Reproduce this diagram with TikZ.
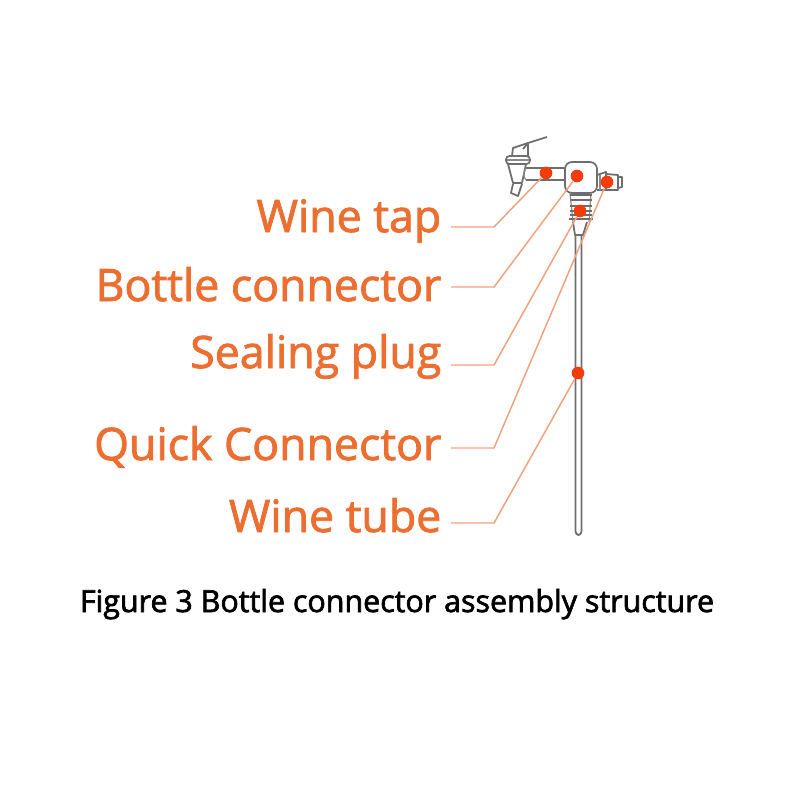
\documentclass[tikz,border=0pt]{standalone}
\usepackage{fontspec}
\setmainfont{Open Sans}
\newfontfamily\labelfont[FakeBold=1.9]{Open Sans}
\newfontfamily\captionfont[FakeBold=2.2]{Open Sans}
\definecolor{labelorange}{HTML}{EC6E30}
\definecolor{leadorange}{HTML}{EFA27E}
\definecolor{dotred}{HTML}{F23C0C}
\definecolor{partgray}{HTML}{6E6E6E}
\tikzset{
  partlabel/.style={anchor=base east,inner sep=0pt,text=labelorange,font=\labelfont\fontsize{12.7}{16}\selectfont},
  captiontext/.style={anchor=base,inner sep=0pt,text=black,font=\captionfont\fontsize{8.65}{11}\selectfont},
  reddot/.style={circle,fill=dotred,draw=none,minimum size=3.6pt,inner sep=0pt},
  leadline/.style={draw=leadorange,line width=0.42pt},
  partline/.style={draw=partgray,line width=0.5pt,line join=round},
  thinpart/.style={draw=partgray!80,line width=0.35pt,line join=round}
}
\begin{document}
\begin{tikzpicture}[x=0.01cm,y=-0.01cm]
\useasboundingbox (0,0) rectangle (800,800);
% ---- tap, pipes, body ----
\draw[partline] (512,156) -- (513,148) -- (528,143) -- (547,137);
\draw[partline] (523,149) -- (528,143) -- (528,156);
\draw[partline,rounded corners=1pt] (506,156) rectangle (530,164);
\draw[thinpart] (507,160) -- (529,160);
\draw[partline] (508,164) -- (513,183) -- (522,183) -- (526,164);
\draw[partline] (513,184) -- (511,193) -- (518,196) -- (522,184);
\draw[partline] (526,168) -- (565,168) (526,180) -- (565,180);
\draw[thinpart] (526,168) .. controls (523,172) and (523,176) .. (526,180);
\draw[partline,rounded corners=2pt] (565,162) rectangle (597,193);
\draw[partline] (597,175) -- (606,172) -- (606,190) -- (597,190);
\draw[partline] (606,174) -- (618,175) -- (618,190) -- (606,190);
\draw[partline] (618,177) -- (622,177) -- (622,187) -- (618,188);
\draw[thinpart] (600,175) -- (600,190);
% ---- plug threads ----
\draw[thinpart] (570,193) -- (573,222) (591,193) -- (589,222);
\foreach \y/\w in {195/11,200/11,206/11,211/11,215/11,219/12}{
  \draw[partline] ({581-\w},\y) -- ({581+\w},\y);
}
% ---- quick connector and tube ----
\draw[partline] (573,222) -- (575,235) -- (583,235) -- (587,222);
\draw[partline,rounded corners=1pt] (575.5,235) -- (575.5,535) -- (581.5,535) -- (581.5,235);
% ---- red points ----
\node[reddot] (tapdot) at (546,173) {};
\node[reddot] (bottledot) at (577,176) {};
\node[reddot] (plugdot) at (580,211) {};
\node[reddot] (quickdot) at (607,182) {};
\node[reddot] (tubedot) at (578,373) {};
% ---- labels ----
\node[partlabel] (taplabel) at (442,232) {Wine tap};
\node[partlabel] (bottlelabel) at (442,301) {Bottle connector};
\node[partlabel] (pluglabel) at (442,368) {Sealing plug};
\node[partlabel] (quicklabel) at (442,460) {Quick Connector};
\node[partlabel] (tubelabel) at (442,532) {Wine tube};
\node[captiontext] (captionlabel) at (397,612) {Figure 3 Bottle connector assembly structure};
% ---- leader lines ----
\coordinate (tapstart) at (451,227);
\coordinate (bottlestart) at (451,287);
\coordinate (plugstart) at (451,365);
\coordinate (quickstart) at (451,448);
\coordinate (tubestart) at (451,523);
\draw[leadline] (tapstart) -- ++(43,0) -- (tapdot);
\draw[leadline] (bottlestart) -- ++(43,0) -- (bottledot);
\draw[leadline] (plugstart) -- ++(43,0) -- (plugdot);
\draw[leadline] (quickstart) -- ++(43,0) -- (quickdot);
\draw[leadline] (tubestart) -- ++(43,0) -- (tubedot);
\end{tikzpicture}
\end{document}
